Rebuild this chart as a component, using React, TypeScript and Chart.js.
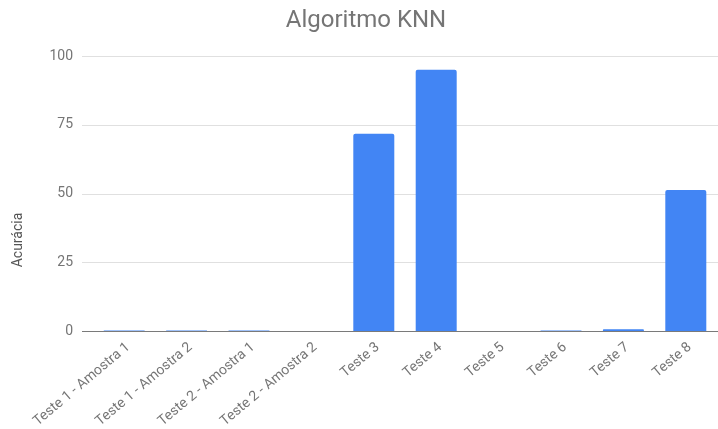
import React, { useEffect, useRef } from 'react';
import { Chart, registerables } from 'chart.js';

Chart.register(...registerables);

const chartTitle = 'Algoritmo KNN';
const yAxisTitle = 'Acurácia';
const categories = [
  'Teste 1 - Amostra 1',
  'Teste 1 - Amostra 2',
  'Teste 2 - Amostra 1',
  'Teste 2 - Amostra 2',
  'Teste 3',
  'Teste 4',
  'Teste 5',
  'Teste 6',
  'Teste 7',
  'Teste 8',
];
const accuracy = [0.2, 0.2, 0.2, 0, 71.7, 95, 0, 0.2, 0.6, 51.3];
const yTicks = [0, 25, 50, 75, 100];

const FONT = 'Roboto, "Noto Sans", Arial, sans-serif';

const decorPlugin = {
  id: 'decor',
  beforeDatasetsDraw(chart: any) {
    const { ctx, chartArea, scales } = chart;
    const y = scales.y;
    ctx.save();
    yTicks.forEach((v) => {
      const py = Math.round(y.getPixelForValue(v)) + 0.5;
      ctx.strokeStyle = v === 0 ? '#7a7a7a' : '#e0e0e0';
      ctx.lineWidth = 1;
      ctx.beginPath();
      ctx.moveTo(chartArea.left - 11, py);
      ctx.lineTo(chartArea.right + 1, py);
      ctx.stroke();
    });
    ctx.restore();
  },
  afterDraw(chart: any) {
    const { ctx } = chart;
    ctx.save();
    ctx.fillStyle = '#757575';
    ctx.font = `24px ${FONT}`;
    ctx.textAlign = 'center';
    ctx.textBaseline = 'middle';
    ctx.fillText(chartTitle, 366, 21);
    ctx.translate(18, 240);
    ctx.rotate(-Math.PI / 2);
    ctx.fillStyle = '#555555';
    ctx.font = `14px ${FONT}`;
    ctx.fillText(yAxisTitle, 0, 0);
    ctx.restore();
  },
};

export default function App() {
  const ref = useRef<HTMLCanvasElement | null>(null);
  useEffect(() => {
    if (!ref.current) return;
    const chart = new Chart(ref.current, {
      type: 'bar',
      data: {
        labels: categories,
        datasets: [
          {
            label: yAxisTitle,
            data: accuracy,
            backgroundColor: '#4285F4',
            borderRadius: 2,
            barPercentage: 0.657,
            categoryPercentage: 1,
          },
        ],
      },
      options: {
        animation: false,
        responsive: false,
        layout: { padding: { top: 56, right: 1, left: 0, bottom: 0 } },
        plugins: {
          legend: { display: false },
          tooltip: { enabled: false },
          title: { display: false },
        },
        scales: {
          x: {
            grid: { display: false, drawTicks: false },
            border: { display: false },
            ticks: {
              autoSkip: false,
              minRotation: 40,
              maxRotation: 40,
              padding: 8,
              labelOffset: 4,
              color: '#757575',
              font: { family: FONT, size: 14 },
            },
            afterFit: (scale: any) => {
              scale.height = 98;
            },
          },
          y: {
            min: 0,
            max: 100,
            grid: { display: false, drawTicks: false },
            border: { display: false },
            ticks: {
              stepSize: 25,
              padding: 20,
              color: '#757575',
              font: { family: FONT, size: 14 },
            },
            afterFit: (scale: any) => {
              scale.width = 93;
            },
          },
        },
      },
      plugins: [decorPlugin],
    });
    return () => chart.destroy();
  }, []);
  return (
    <div style={{ position: 'fixed', left: 0, top: 0, width: 718, height: 429, background: '#fff' }}>
      <canvas ref={ref} width={718} height={429} />
    </div>
  );
}
